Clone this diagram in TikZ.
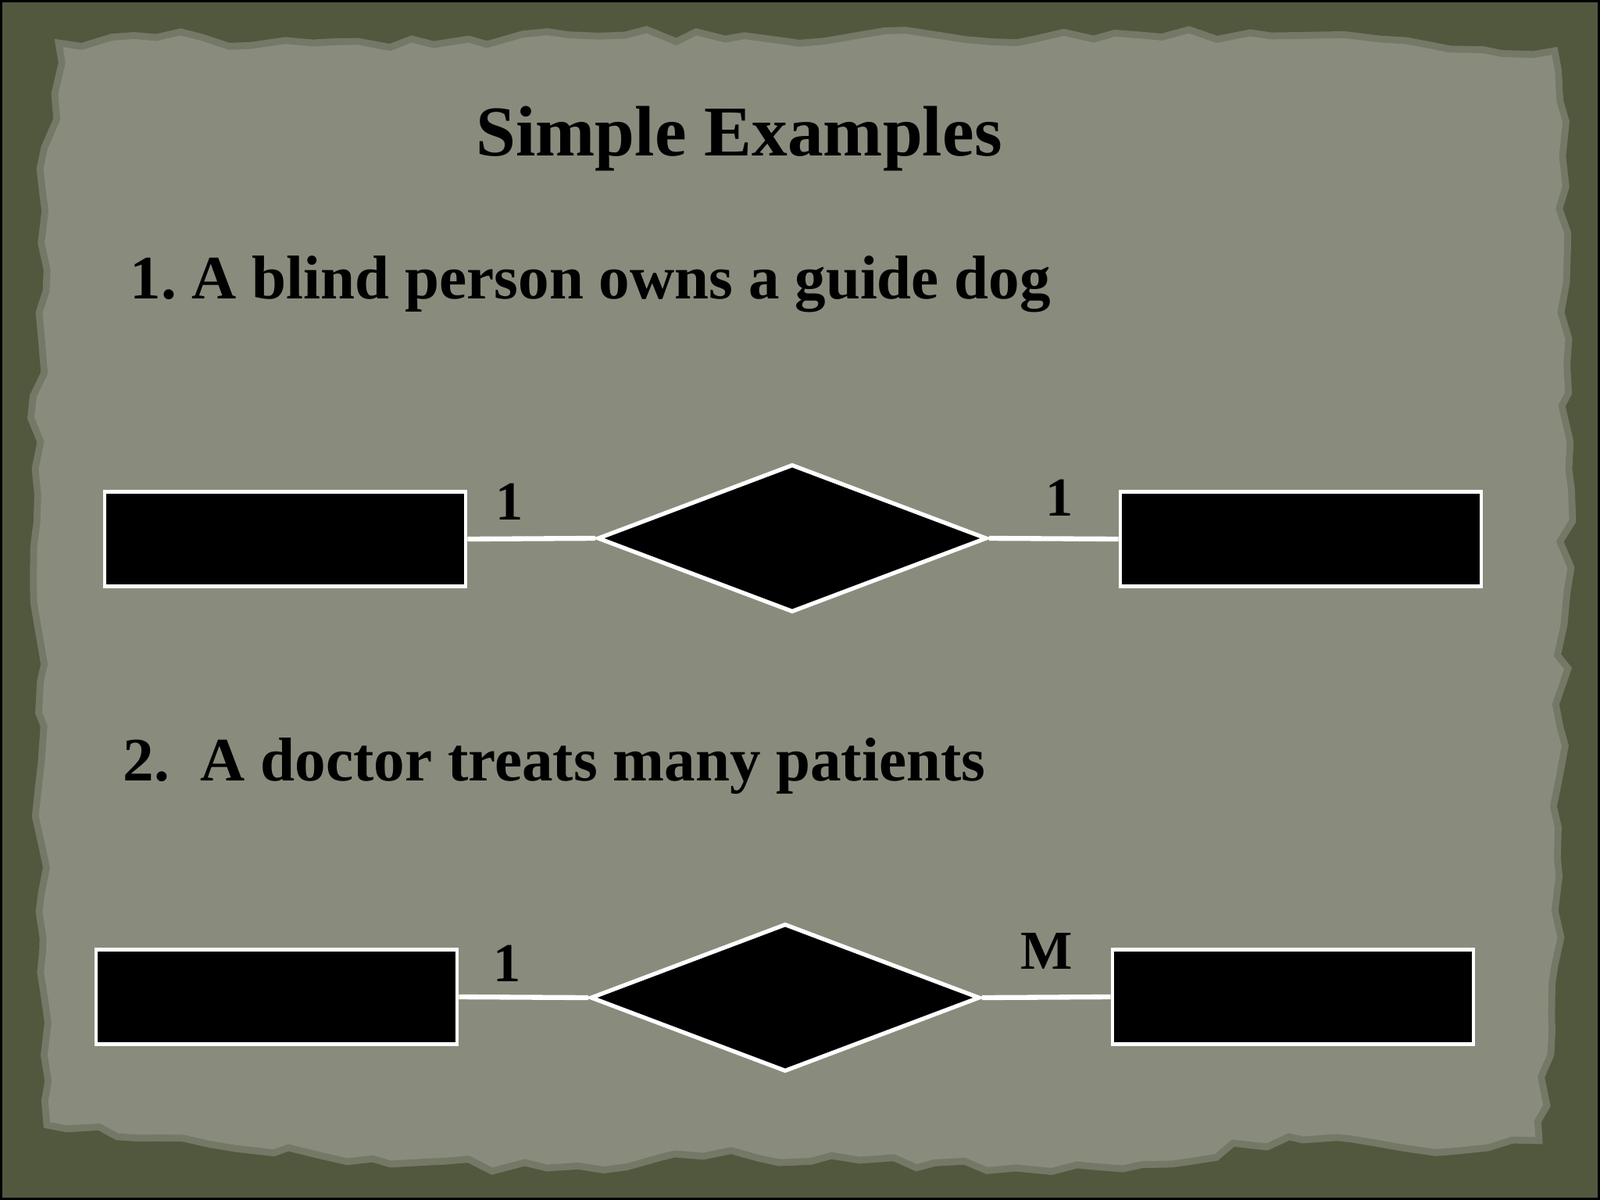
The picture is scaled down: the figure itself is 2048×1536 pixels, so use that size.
\documentclass[tikz,border=0pt]{standalone}
\usepackage{fontspec}
\setmainfont{Liberation Serif}
\usetikzlibrary{shapes.geometric,decorations.pathmorphing}
\definecolor{boardolive}{RGB}{82,88,62}
\definecolor{paper}{RGB}{137,140,125}
\definecolor{paperedge}{RGB}{116,120,102}
\frenchspacing
\begin{document}
\begin{tikzpicture}[x=0.01cm, y=-0.01cm,
    entity/.style={draw=white, fill=black, line width=1.3pt, minimum width=4.62cm, minimum height=1.21cm, inner sep=0pt},
    relation/.style={diamond, draw=white, fill=black, line width=1.5pt, minimum width=4.98cm, minimum height=1.89cm, inner sep=0pt},
    link/.style={draw=white, line width=1.8pt},
    card/.style={anchor=base, font=\bfseries\fontsize{20}{24}\selectfont},
    heading/.style={anchor=base west, inner sep=0pt, font=\bfseries\fontsize{22.5}{27}\selectfont}]
    \useasboundingbox (0,0) rectangle (2048,1536);
    \fill[black] (0,0) rectangle (2048,1536);
    \fill[boardolive] (3,3) rectangle (2045,1533);
    \path[fill=paper, draw=paperedge, line width=2.5pt, decorate, decoration={random steps, segment length=9pt, amplitude=2.5pt}]
        (75,55) -- (200,48) -- (400,55) -- (600,50) -- (800,45) -- (1000,52) -- (1200,45) -- (1400,50) -- (1600,42) -- (1800,52) -- (1990,65)
        -- (2000,200) -- (1998,400) -- (2008,600) -- (2002,800) -- (1995,1000) -- (1998,1200) -- (1985,1350) -- (1970,1460)
        -- (1800,1470) -- (1650,1455) -- (1500,1490) -- (1300,1495) -- (1100,1485) -- (900,1480) -- (700,1495) -- (500,1490) -- (300,1470) -- (150,1455) -- (60,1440)
        -- (55,1200) -- (50,1000) -- (48,800) -- (45,600) -- (50,400) -- (55,250) -- (70,120) -- cycle;

    \node[anchor=base, font=\bfseries\fontsize{26}{31}\selectfont] (title) at (946,199) {Simple Examples};
    \node[heading] (caseOne) at (166,382) {1. A blind person owns a guide dog};
    \node[heading] (caseTwo) at (157,999) {2.\ \ A doctor treats many patients};

    \node[entity] (personBox) at (365,690) {};
    \node[relation] (ownsRel) at (1014,689) {};
    \node[entity] (dogBox) at (1665,690) {};
    \draw[link] (personBox.east) -- (ownsRel.west);
    \draw[link] (ownsRel.east) -- (dogBox.west);
    \node[card] (ownsLeft) at (652,665) {1};
    \node[card] (ownsRight) at (1356,660) {1};

    \node[entity] (doctorBox) at (354,1276) {};
    \node[relation] (treatsRel) at (1005,1277) {};
    \node[entity] (patientBox) at (1655,1276) {};
    \draw[link] (doctorBox.east) -- (treatsRel.west);
    \draw[link] (treatsRel.east) -- (patientBox.west);
    \node[card] (treatsLeft) at (649,1256) {1};
    \node[card] (treatsRight) at (1340,1240) {M};
\end{tikzpicture}
\end{document}
